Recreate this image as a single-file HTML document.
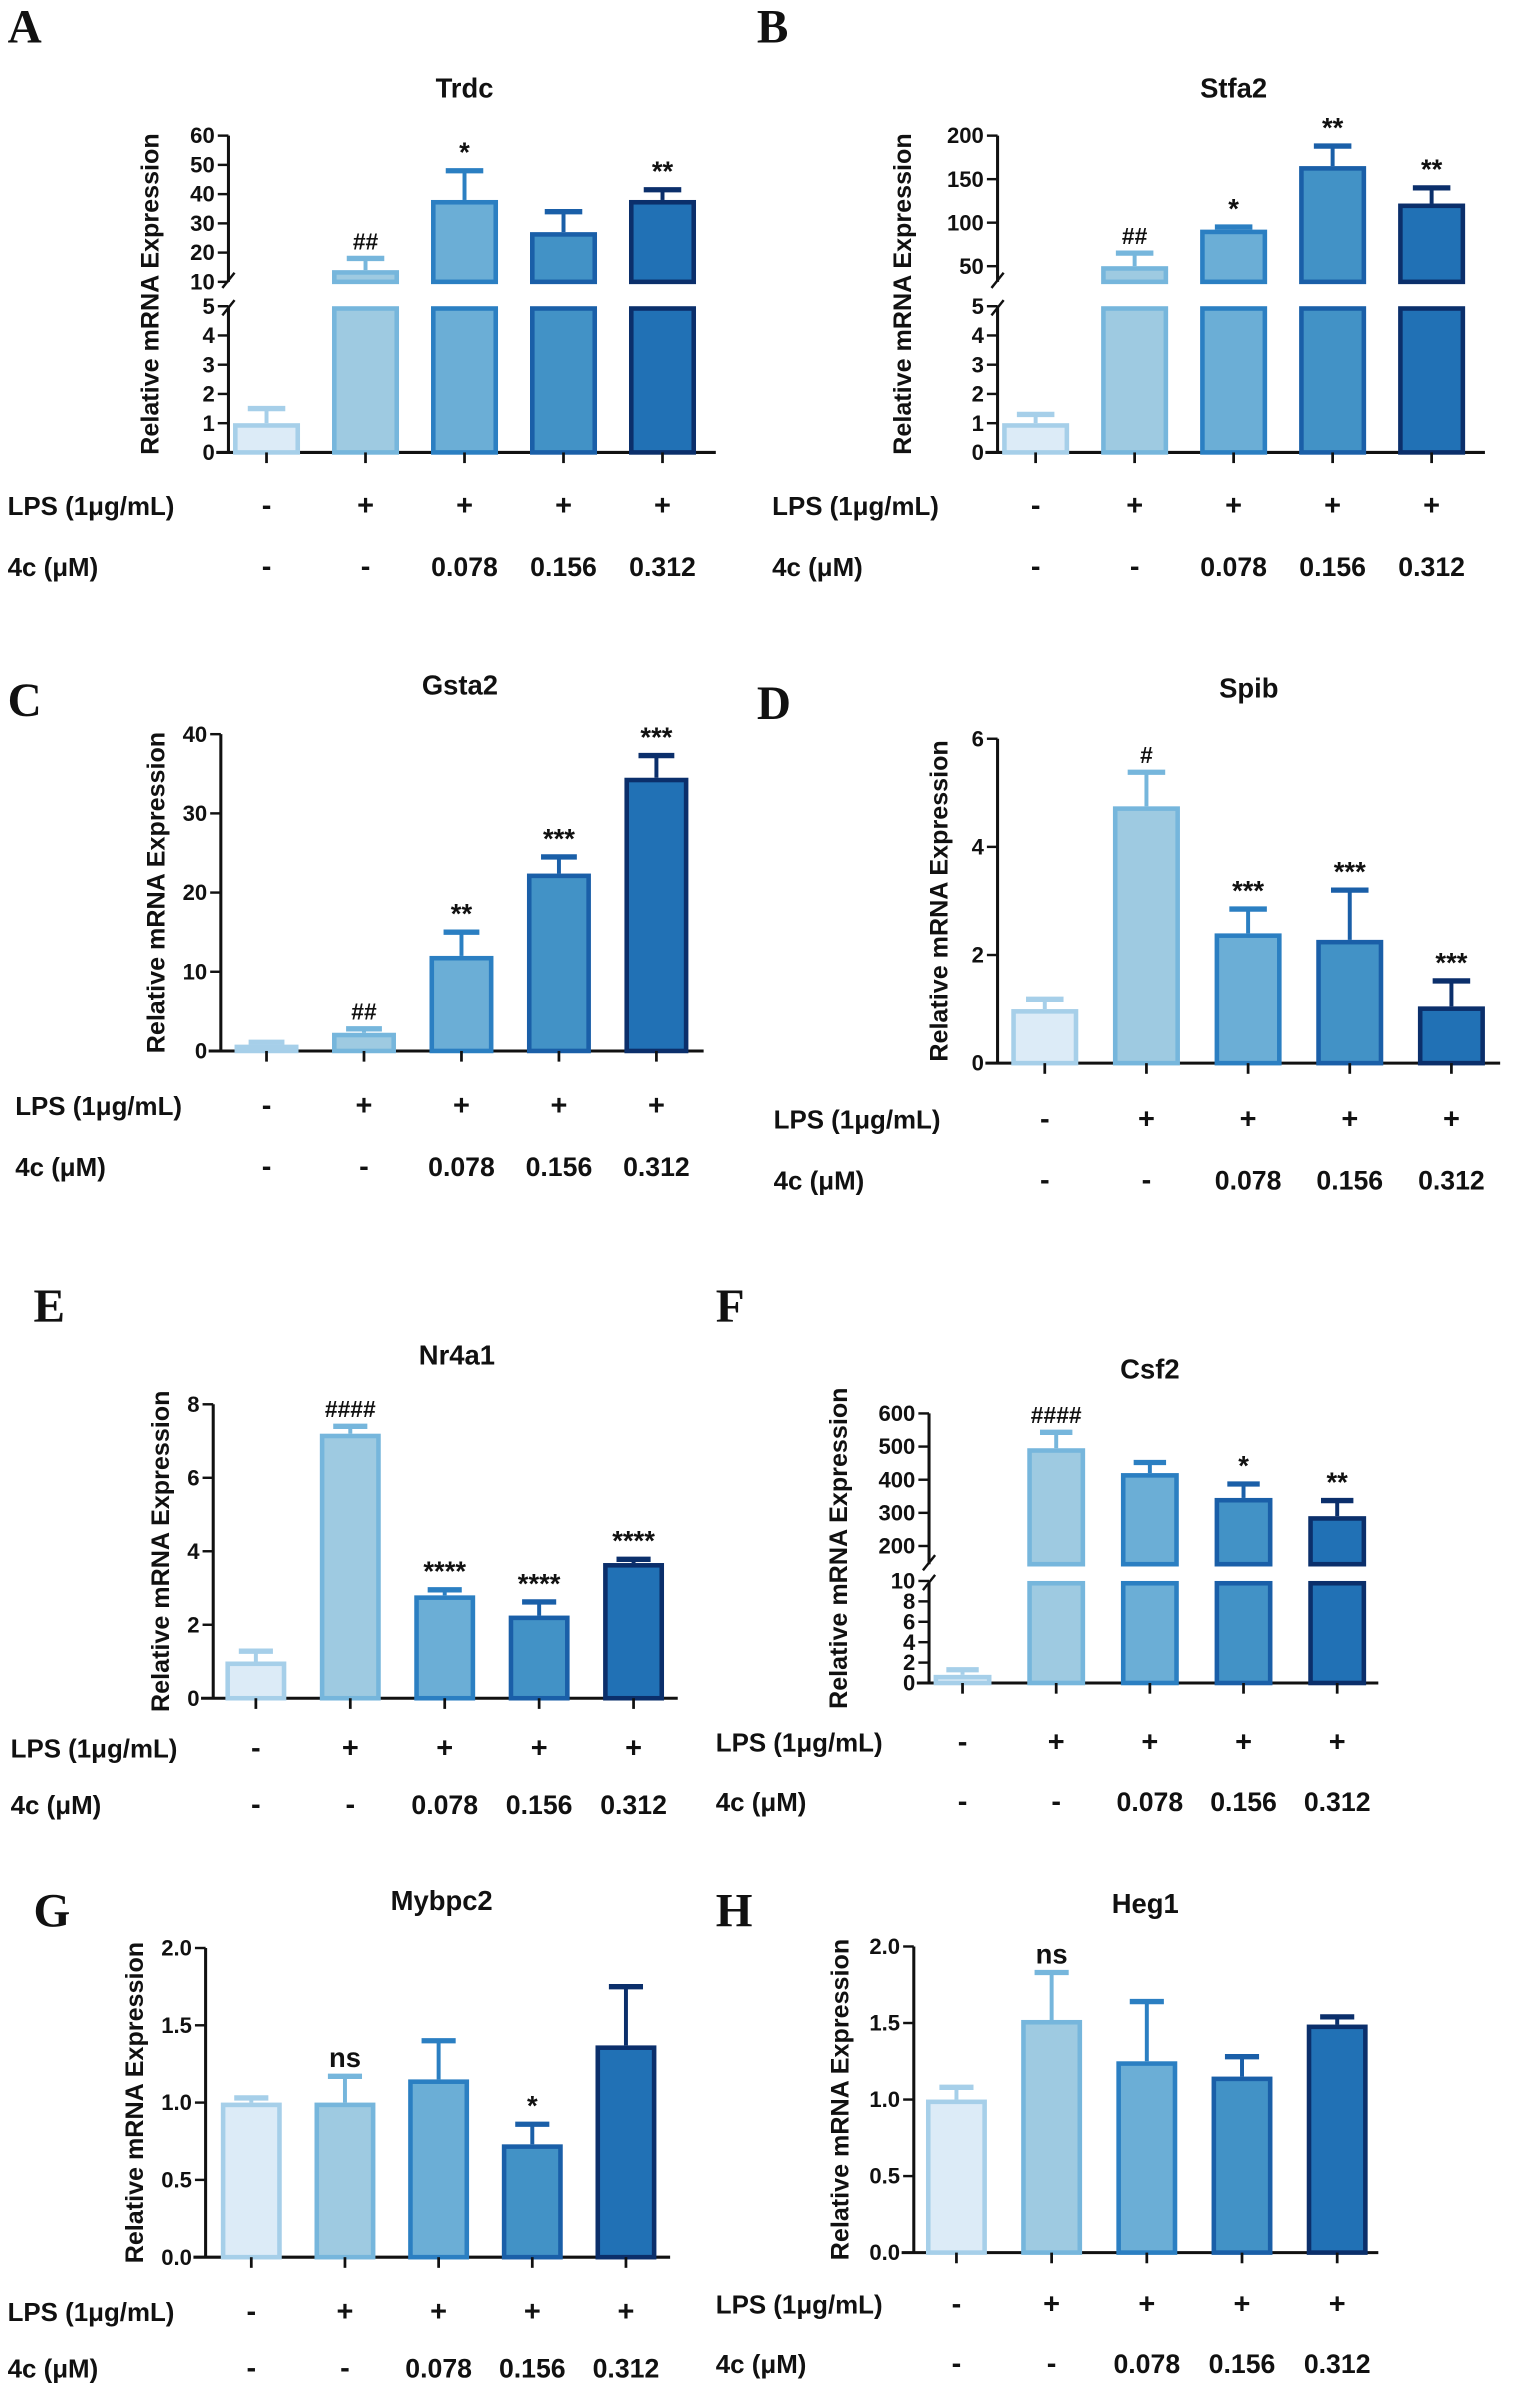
<!DOCTYPE html>
<html><head><meta charset="utf-8">
<style>
html,body{margin:0;padding:0;background:#fff;}
svg{display:block;}
text{font-family:"Liberation Sans",Arial,sans-serif;}
</style></head>
<body>
<svg id="fig" xmlns="http://www.w3.org/2000/svg" width="1523" height="2405" viewBox="0 0 1000 1579"></svg>
<script>
const groups = ["ctrl","lps","4c-0.078","4c-0.156","4c-0.312"];
const lpsLabels = ["-","+","+","+","+"];
const doseLabels = ["-","-","0.078","0.156","0.312"];

const trdcMean = [1.0, 14, 38, 27, 38];
const trdcErr  = [1.5, 18, 48, 34, 41.5];
const trdcSig  = ["", "##", "*", "", "**"];

const stfa2Mean = [1.0, 50, 92, 165, 122];
const stfa2Err  = [1.3, 65, 95, 188, 140];
const stfa2Sig  = ["", "##", "*", "**", "**"];

const gsta2Mean = [0.8, 2.3, 12, 22.4, 34.5];
const gsta2Err  = [1.1, 2.8, 15, 24.5, 37.3];
const gsta2Sig  = ["", "##", "**", "***", "***"];

const spibMean = [1.0, 4.75, 2.4, 2.28, 1.05];
const spibErr  = [1.18, 5.38, 2.85, 3.2, 1.52];
const spibSig  = ["", "#", "***", "***", "***"];

const nr4a1Mean = [1.0, 7.2, 2.8, 2.25, 3.68];
const nr4a1Err  = [1.28, 7.4, 2.95, 2.62, 3.78];
const nr4a1Sig  = ["", "####", "****", "****", "****"];

const csf2Mean = [0.8, 495, 420, 345, 290];
const csf2Err  = [1.3, 543, 452, 387, 337];
const csf2Sig  = ["", "####", "", "*", "**"];

const mybpc2Mean = [1.0, 1.0, 1.15, 0.73, 1.37];
const mybpc2Err  = [1.03, 1.17, 1.4, 0.86, 1.75];
const mybpc2Sig  = ["", "ns", "", "*", ""];

const heg1Mean = [1.0, 1.52, 1.25, 1.15, 1.49];
const heg1Err  = [1.08, 1.83, 1.64, 1.28, 1.54];
const heg1Sig  = ["", "ns", "", "", ""];

const fills = ["#dcebf7","#9ecae1","#6baed6","#4292c6","#2171b5"];
const edges = ["#a6cfe9","#76b6dc","#2b7fc2","#1a5fa8","#0b2f6b"];

const NS = "http://www.w3.org/2000/svg";
const svg = document.getElementById('fig');
function mk(tag, attrs, parent){
  const e = document.createElementNS(NS, tag);
  for (const k in attrs) e.setAttribute(k, attrs[k]);
  (parent||svg).appendChild(e);
  return e;
}
function txt(parent, x, y, s, size, opts){
  opts = opts||{};
  const t = mk('text', {x:x, y:y, 'font-size':size, 'font-weight':opts.w||'bold', 'text-anchor':opts.a||'middle', fill:'#111'}, parent);
  if (opts.tr) t.setAttribute('transform', opts.tr);
  if (opts.ff) t.setAttribute('style', 'font-family:' + opts.ff);
  t.textContent = s;
  return t;
}

function panel(cfg){
  const g = mk('g', {});
  
  
  const L = txt(g, cfg.letter[0], cfg.letter[1], cfg.letterText, 31, {a:'start', ff:'"Liberation Serif",serif'});
  
  
  const T = txt(g, cfg.titleX, cfg.titleY, cfg.title, 18);
  
  
  const segs = cfg.segs;
  const ax = cfg.axisX;
  const y0 = segs[0].y0;
  const yTopAll = segs[segs.length-1].y1;
  const yt = txt(g, 0, 0, 'Relative mRNA Expression', 16.5, {tr:`translate(${cfg.ytX},${(y0+yTopAll)/2}) rotate(-90)`});
  
  
  function ys(s, v){ return s.y0 - (v - s.vmin)/(s.vmax - s.vmin)*(s.y0 - s.y1); }
  segs.forEach((s, si) => {
    const al = mk('line', {x1:ax, y1:s.y0, x2:ax, y2:s.y1, stroke:'#111', 'stroke-width':2}, g);
    
    
    s.ticks.forEach(tv => {
      const yy = ys(s, tv);
      mk('line', {x1:ax-7, y1:yy, x2:ax, y2:yy, stroke:'#111', 'stroke-width':1.6}, g);
      const tl = txt(g, ax-9, yy+5, cfg.dec ? tv.toFixed(1) : String(tv), 14.5, {a:'end'});
      
      
    });
    if (si > 0) {
      const prev = segs[si-1];
      mk('line', {x1:ax-4, y1:prev.y1+6, x2:ax+4, y2:prev.y1-4, stroke:'#111', 'stroke-width':1.6}, g);
      mk('line', {x1:ax-4, y1:s.y0+4, x2:ax+4, y2:s.y0-6, stroke:'#111', 'stroke-width':1.6}, g);
    }
  });
  const xa = mk('line', {x1:ax-8, y1:y0, x2:cfg.xEnd, y2:y0, stroke:'#111', 'stroke-width':2}, g);
  
  
  const rl = txt(g, cfg.rowX, cfg.lpsY, 'LPS (1μg/mL)', 17, {a:'start'});
  
  
  const dl = txt(g, cfg.rowX, cfg.doseY, '4c (μM)', 17, {a:'start'});
  
  
  groups.forEach((grp, i) => {
    const cx = cfg.x0 + i*cfg.step;
    const w = cfg.bw;
    const v = cfg.mean[i], ev = cfg.err[i];
    segs.forEach((s) => {
      if (v <= s.vmin) return;
      const top = Math.min(v, s.vmax);
      const yt2 = ys(s, top), yb = s.y0;
      const r = mk('rect', {x:cx-w/2+1.5, y:yt2+1.5, width:w-3, height:Math.max(0, yb-yt2-1.5), fill:fills[i], stroke:edges[i], 'stroke-width':3}, g);
      
      
    });
    let es = segs.find(s => v >= s.vmin && v <= s.vmax) || segs[0];
    const yv = ys(es, v), ye = ys(es, ev);
    const el = mk('line', {x1:cx, y1:yv, x2:cx, y2:ye, stroke:edges[i], 'stroke-width':2.6}, g);
    
    
    mk('line', {x1:cx-w*0.28, y1:ye, x2:cx+w*0.28, y2:ye, stroke:edges[i], 'stroke-width':3.5}, g);
    if (cfg.sig[i]) {
      const st = txt(g, cx, ye - 6, cfg.sig[i], cfg.sig[i].includes('#') ? 15 : 18);
      
      
    }
    mk('line', {x1:cx, y1:y0, x2:cx, y2:y0+7, stroke:'#111', 'stroke-width':1.8}, g);
    const a = txt(g, cx, cfg.lpsY, lpsLabels[i], 19);
    
    
    const b = txt(g, cx, cfg.doseY, doseLabels[i], doseLabels[i]==='-'?19:17.5);
    
    
  });
}

panel({name:'trdc', letterText:'A', letter:[5,28], title:'Trdc', titleX:305, titleY:64, ytX:104, axisX:150, xEnd:470,
  x0:175, step:65, bw:44, rowX:5, lpsY:338, doseY:378,
  segs:[{vmin:0, vmax:5, y0:297, y1:201, ticks:[0,1,2,3,4,5]}, {vmin:10, vmax:60, y0:185, y1:89, ticks:[10,20,30,40,50,60]}],
  mean:trdcMean, err:trdcErr, sig:trdcSig});
panel({name:'stfa2', letterText:'B', letter:[497,28], title:'Stfa2', titleX:810, titleY:64, ytX:598, axisX:655, xEnd:975,
  x0:680, step:65, bw:44, rowX:507, lpsY:338, doseY:378,
  segs:[{vmin:0, vmax:5, y0:297, y1:201, ticks:[0,1,2,3,4,5]}, {vmin:32, vmax:200, y0:185, y1:89, ticks:[50,100,150,200]}],
  mean:stfa2Mean, err:stfa2Err, sig:stfa2Sig});
panel({name:'gsta2', letterText:'C', letter:[5,470], title:'Gsta2', titleX:302, titleY:456, ytX:108, axisX:145, xEnd:462,
  x0:175, step:64, bw:42, rowX:10, lpsY:732, doseY:772,
  segs:[{vmin:0, vmax:40, y0:690, y1:482, ticks:[0,10,20,30,40]}],
  mean:gsta2Mean, err:gsta2Err, sig:gsta2Sig});
panel({name:'spib', letterText:'D', letter:[497,472], title:'Spib', titleX:820, titleY:458, ytX:622, axisX:655, xEnd:985,
  x0:686, step:66.75, bw:44, rowX:508, lpsY:741, doseY:781,
  segs:[{vmin:0, vmax:6, y0:698, y1:485, ticks:[0,2,4,6]}],
  mean:spibMean, err:spibErr, sig:spibSig});
panel({name:'nr4a1', letterText:'E', letter:[22,868], title:'Nr4a1', titleX:300, titleY:896, ytX:111, axisX:140, xEnd:445,
  x0:168, step:62, bw:40, rowX:7, lpsY:1154, doseY:1191,
  segs:[{vmin:0, vmax:8, y0:1115, y1:922, ticks:[0,2,4,6,8]}],
  mean:nr4a1Mean, err:nr4a1Err, sig:nr4a1Sig});
panel({name:'csf2', letterText:'F', letter:[470,868], title:'Csf2', titleX:755, titleY:905, ytX:556, axisX:610, xEnd:905,
  x0:632, step:61.5, bw:38, rowX:470, lpsY:1150, doseY:1189,
  segs:[{vmin:0, vmax:10, y0:1105, y1:1038, ticks:[0,2,4,6,8,10]}, {vmin:145, vmax:600, y0:1027, y1:928, ticks:[200,300,400,500,600]}],
  mean:csf2Mean, err:csf2Err, sig:csf2Sig});
panel({name:'mybpc2', letterText:'G', letter:[22,1265], title:'Mybpc2', titleX:290, titleY:1254, ytX:94, axisX:135, xEnd:440,
  x0:165, step:61.5, bw:40, rowX:5, lpsY:1524, doseY:1561, dec:true,
  segs:[{vmin:0, vmax:2, y0:1482, y1:1279, ticks:[0,0.5,1,1.5,2]}],
  mean:mybpc2Mean, err:mybpc2Err, sig:mybpc2Sig});
panel({name:'heg1', letterText:'H', letter:[470,1265], title:'Heg1', titleX:752, titleY:1256, ytX:557, axisX:600, xEnd:905,
  x0:628, step:62.5, bw:40, rowX:470, lpsY:1519, doseY:1558, dec:true,
  segs:[{vmin:0, vmax:2, y0:1479, y1:1278, ticks:[0,0.5,1,1.5,2]}],
  mean:heg1Mean, err:heg1Err, sig:heg1Sig});
</script>
</body></html>
